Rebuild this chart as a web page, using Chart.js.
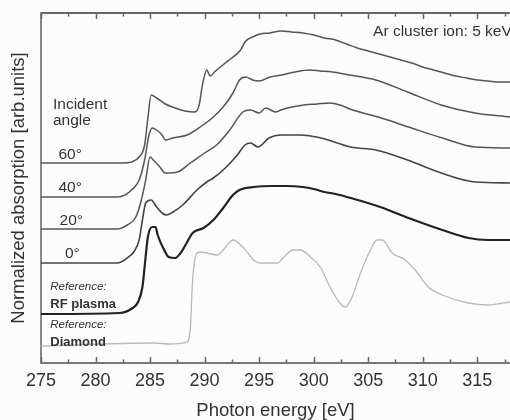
<html>
<head>
<script src="https://cdn.jsdelivr.net/npm/chart.js@4"></script>
<style>
  body { margin: 0; background: #fcfcfc; }
  canvas { display: block; }
</style>
</head>
<body>
<canvas id="xas" width="510" height="420"></canvas>
<script>
// photon energy [eV] / normalized absorption (offset stack)
const e60 = [275, 282.5, 283.3, 284, 284.5, 284.8, 285.1, 285.6, 286.4, 287.3, 288.2, 289.1, 289.5, 289.8, 290.2, 290.5, 291, 291.9, 292.5, 293.3, 293.7, 294.6, 295.1, 296, 297, 298, 299, 300, 301, 302, 303, 304, 305, 306, 307, 308, 309, 310, 311, 312, 313, 314, 315, 316, 317, 318];
const v60 = [20.0, 20.0, 20.1, 20.6, 21.8, 24.5, 26.8, 26.5, 25.9, 25.5, 25.2, 25.1, 25.8, 27.8, 29.3, 28.7, 29.2, 30.0, 30.5, 31.3, 32.1, 32.7, 32.9, 33.0, 33.2, 33.1, 33.0, 32.8, 32.5, 32.3, 31.9, 31.5, 31.2, 30.9, 30.6, 30.3, 30.0, 29.6, 29.3, 29.0, 28.7, 28.5, 28.3, 28.2, 28.1, 28.1];

const e40 = [275, 282, 282.7, 283.3, 284, 284.5, 284.9, 285.2, 285.6, 286.1, 286.4, 287.1, 288.4, 289.6, 290.8, 291.7, 292.6, 293.2, 293.8, 294.4, 295, 296, 297.1, 298.3, 299.6, 300.6, 301.7, 303.3, 305.7, 308.6, 311.7, 314.8, 318];
const v40 = [16.6, 16.6, 16.8, 17.3, 18.3, 20.3, 22.8, 23.5, 23.3, 22.8, 22.3, 22.5, 22.8, 23.6, 24.6, 25.6, 27.0, 28.3, 28.6, 28.3, 28.2, 28.6, 28.8, 29.1, 29.3, 29.2, 29.1, 28.8, 28.3, 27.1, 25.8, 25.0, 24.6];

const e20 = [275, 282, 282.9, 283.7, 284.2, 284.6, 285.0, 285.3, 285.9, 286.4, 287.5, 288.7, 290, 291.1, 292.3, 293.5, 294.2, 295, 295.6, 296.5, 297, 298, 299.1, 300.3, 301.5, 302.4, 303.6, 306.2, 308.7, 311.8, 314.8, 318];
const v20 = [13.4, 13.4, 13.8, 14.6, 16.3, 18.3, 20.6, 20.3, 19.6, 19.0, 19.1, 20.0, 21.0, 21.8, 23.3, 25.1, 25.3, 25.0, 25.5, 25.1, 25.3, 25.6, 25.8, 25.9, 26.0, 25.8, 25.3, 24.5, 23.6, 22.5, 21.6, 21.5];

const e0 = [275, 282, 282.9, 283.5, 284, 284.3, 284.6, 285.1, 285.6, 286.1, 286.5, 287.1, 288, 289.3, 290.2, 290.8, 291.9, 293, 293.7, 294.2, 294.9, 295.9, 297.1, 298.7, 300.7, 303.4, 305.7, 308.6, 311.7, 314.8, 318];
const v0 = [10.0, 10.0, 10.5, 11.1, 12.3, 14.3, 16.0, 16.3, 15.6, 15.0, 14.8, 15.1, 15.8, 17.3, 18.1, 18.5, 19.5, 20.8, 21.8, 22.0, 21.6, 22.5, 22.8, 22.8, 22.5, 21.6, 21.3, 20.3, 19.0, 18.1, 18.0];

const eRF = [275, 282.2, 283.4, 283.9, 284.3, 284.5, 284.8, 285.2, 285.5, 285.7, 286.2, 286.7, 287.3, 287.8, 288.4, 288.9, 289.9, 290.8, 291.7, 292.6, 293.2, 293.8, 294.5, 296, 297.5, 299, 300, 301, 302, 303.4, 306.1, 308.7, 311.8, 314.2, 316, 318];
const vRF = [4.9, 5.0, 5.5, 6.1, 7.6, 9.6, 12.6, 13.6, 13.6, 12.8, 11.5, 10.6, 10.5, 11.0, 12.1, 13.0, 13.5, 14.3, 15.5, 16.8, 17.3, 17.5, 17.6, 17.7, 17.7, 17.6, 17.4, 17.1, 16.9, 16.5, 15.6, 14.5, 13.3, 12.5, 12.3, 12.3];

const eDia = [275, 285.3, 286.8, 288.4, 288.7, 288.9, 289.3, 289.6, 291.2, 291.7, 292.6, 293.5, 294.5, 295.1, 296.7, 297.2, 298.1, 298.8, 299.7, 300.6, 301.5, 302.4, 302.9, 303.4, 304.3, 305.2, 305.8, 306.3, 307.2, 308.4, 309.3, 310.5, 311.8, 314.2, 316, 318];
const vDia = [1.7, 2.0, 1.9, 2.1, 3.6, 8.3, 11.0, 11.1, 10.8, 11.3, 12.3, 11.6, 10.3, 10.0, 10.0, 10.5, 11.3, 11.3, 10.6, 9.6, 7.6, 6.0, 5.6, 6.3, 9.0, 11.3, 12.3, 12.3, 11.0, 10.3, 9.3, 7.6, 6.8, 6.0, 5.8, 6.1];

const xTicks = [275, 280, 285, 290, 295, 300, 305, 310, 315];
const xMinorTicks = [277.5, 282.5, 287.5, 292.5, 297.5, 302.5, 307.5, 312.5, 317.5];

const FONT = '"Liberation Sans", Arial, sans-serif';

// text inside the plot, anchored in data units (energy, absorption)
const notes = [
  { text: 'Incident', x: 276.1, y: 25.4, font: '15.5px ' + FONT },
  { text: 'angle', x: 276.1, y: 23.8, font: '15.5px ' + FONT },
  { text: '60°', x: 276.6, y: 20.4, font: '15.5px ' + FONT },
  { text: '40°', x: 276.6, y: 17.1, font: '15.5px ' + FONT },
  { text: '20°', x: 276.7, y: 13.8, font: '15.5px ' + FONT },
  { text: '0°', x: 277.2, y: 10.5, font: '15.5px ' + FONT },
  { text: 'Reference:', x: 275.85, y: 7.3, font: 'italic 11.5px ' + FONT },
  { text: 'RF plasma', x: 275.85, y: 5.5, font: 'bold 13px ' + FONT },
  { text: 'Reference:', x: 275.85, y: 3.5, font: 'italic 11.5px ' + FONT },
  { text: 'Diamond', x: 275.85, y: 1.75, font: 'bold 13px ' + FONT },
  { text: 'Ar cluster ion: 5 keV', x: 305.45, y: 32.7, font: '15.5px ' + FONT }
];

function pts(xs, ys) {
  return xs.map((x, i) => ({ x: x, y: ys[i] }));
}

const bg = {
  id: 'bg',
  beforeDraw(chart) {
    const ctx = chart.ctx;
    ctx.save();
    ctx.fillStyle = '#fcfcfc';
    ctx.fillRect(0, 0, chart.width, chart.height);
    ctx.restore();
  }
};

// inward ticks on bottom and top axes
const tickMarks = {
  id: 'tickMarks',
  afterDatasetsDraw(chart) {
    const { ctx, chartArea: a, scales: { x } } = chart;
    ctx.save();
    ctx.strokeStyle = '#666';
    ctx.lineWidth = 1.5;
    const draw = (v, len) => {
      const px = Math.round(x.getPixelForValue(v)) + 0.5;
      ctx.beginPath();
      ctx.moveTo(px, a.bottom);
      ctx.lineTo(px, a.bottom - len);
      ctx.moveTo(px, a.top);
      ctx.lineTo(px, a.top + len);
      ctx.stroke();
    };
    xTicks.forEach(v => draw(v, 6));
    xMinorTicks.forEach(v => draw(v, 3.5));
    ctx.restore();
  }
};

const labels = {
  id: 'labels',
  afterDraw(chart) {
    const { ctx, scales: { x, y } } = chart;
    ctx.save();
    ctx.fillStyle = '#333';
    ctx.textAlign = 'left';
    ctx.textBaseline = 'alphabetic';
    notes.forEach(n => {
      ctx.font = n.font;
      ctx.fillText(n.text, x.getPixelForValue(n.x), y.getPixelForValue(n.y));
    });
    ctx.restore();
  }
};

const line = (label, data, color, width) => ({
  label: label,
  data: data,
  borderColor: color,
  borderWidth: width,
  pointRadius: 0,
  fill: false,
  cubicInterpolationMode: 'monotone'
});

new Chart(document.getElementById('xas'), {
  type: 'line',
  data: {
    datasets: [
      line('60°', pts(e60, v60), '#555', 1.5),
      line('40°', pts(e40, v40), '#555', 1.5),
      line('20°', pts(e20, v20), '#555', 1.5),
      line('0°', pts(e0, v0), '#444', 1.6),
      line('RF plasma', pts(eRF, vRF), '#222', 2.2),
      line('Diamond', pts(eDia, vDia), '#b8b8b8', 1.3)
    ]
  },
  options: {
    responsive: false,
    animation: false,
    layout: { padding: 0 },
    plugins: { legend: { display: false }, tooltip: { enabled: false } },
    scales: {
      x: {
        type: 'linear',
        position: 'bottom',
        min: 275,
        max: 318,
        afterBuildTicks: s => { s.ticks = xTicks.map(v => ({ value: v })); },
        afterFit: s => { s.height = 57; },
        grid: { display: false, drawTicks: false, tickLength: 0 },
        border: { color: '#777', width: 2 },
        ticks: { color: '#333', font: { size: 18, family: FONT }, padding: 7, maxRotation: 0 },
        title: { display: true, text: 'Photon energy [eV]', color: '#333', font: { size: 18.5, family: FONT, lineHeight: 1 }, padding: 0 }
      },
      xTop: {
        type: 'linear',
        position: 'top',
        min: 275,
        max: 318,
        afterFit: s => { s.height = 13; },
        grid: { display: false },
        ticks: { display: false },
        border: { color: '#666', width: 2 }
      },
      y: {
        type: 'linear',
        min: 0,
        max: 35,
        afterFit: s => { s.width = 41; },
        grid: { display: false },
        ticks: { display: false },
        border: { color: '#888', width: 2 },
        title: { display: true, text: 'Normalized absorption [arb.units]', color: '#333', font: { size: 18.5, family: FONT, lineHeight: 1 }, padding: { top: 10, bottom: 0 } }
      }
    }
  },
  plugins: [bg, tickMarks, labels]
});
</script>
</body>
</html>
